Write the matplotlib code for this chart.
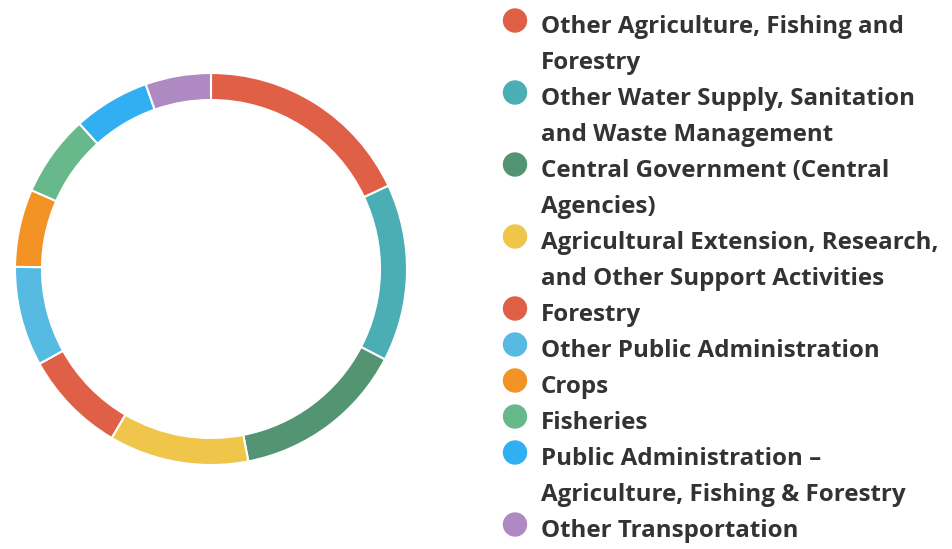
import matplotlib
matplotlib.use("Agg")
import matplotlib.pyplot as plt
from matplotlib.patches import Circle

# ---- data ----
categories = [
    "Other Agriculture, Fishing and Forestry",
    "Other Water Supply, Sanitation and Waste Management",
    "Central Government (Central Agencies)",
    "Agricultural Extension, Research, and Other Support Activities",
    "Forestry",
    "Other Public Administration",
    "Crops",
    "Fisheries",
    "Public Administration \u2013 Agriculture, Fishing & Forestry",
    "Other Transportation",
]
legend_lines = [
    ["Other Agriculture, Fishing and", "Forestry"],
    ["Other Water Supply, Sanitation", "and Waste Management"],
    ["Central Government (Central", "Agencies)"],
    ["Agricultural Extension, Research,", "and Other Support Activities"],
    ["Forestry"],
    ["Other Public Administration"],
    ["Crops"],
    ["Fisheries"],
    ["Public Administration \u2013", "Agriculture, Fishing & Forestry"],
    ["Other Transportation"],
]
values = [18.0, 14.6, 14.3, 11.5, 8.5, 8.2, 6.4, 6.7, 6.3, 5.4]
colors = ["#DF6046", "#4AAEB4", "#539572", "#EFC54A", "#DF6046",
          "#57BAE2", "#F39325", "#67B88B", "#30B0F2", "#AF8AC2"]

W, H, DPI = 952, 549, 100
fig = plt.figure(figsize=(W / DPI, H / DPI), dpi=DPI)
fig.patch.set_facecolor("white")

# donut
cx, cy, R, ring = 211, 269, 196, 27
ax = fig.add_axes([(cx - R) / W, (H - cy - R) / H, 2 * R / W, 2 * R / H])
ax.pie(values, colors=colors, startangle=90, counterclock=False, radius=1,
       wedgeprops=dict(width=ring / R, edgecolor="white", linewidth=1.5))
ax.set_xlim(-1, 1)
ax.set_ylim(-1, 1)
ax.set_aspect("equal")
ax.axis("off")

# legend in pixel coordinates
lax = fig.add_axes([0, 0, 1, 1])
lax.set_xlim(0, W)
lax.set_ylim(H, 0)
lax.axis("off")

font = dict(family="Open Sans", weight="bold", color="#333333")
fs = 15.5
# fit font size to reference width of the first line
t = lax.text(541, 33, legend_lines[0][0], fontsize=fs, va="baseline", **font)
fig.canvas.draw()
w = t.get_window_extent().width
fs = fs * 362.0 / w
t.remove()

line_h = 36
y = 33
for lines, c in zip(legend_lines, colors):
    lax.add_patch(Circle((515, y - 12.5), 11.5, color=c, transform=lax.transData))
    for ln in lines:
        lax.text(541, y, ln, fontsize=fs, va="baseline", ha="left", **font)
        y += line_h

fig.savefig("out.png", dpi=DPI, facecolor="white")
